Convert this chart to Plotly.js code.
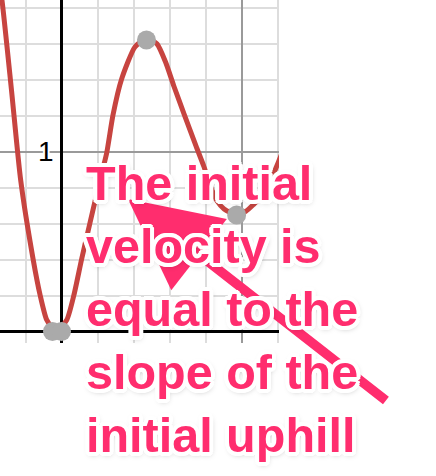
<!DOCTYPE html>
<html>
<head>
<meta charset="utf-8">
<script src="https://cdn.plot.ly/plotly-3.0.1.min.js"></script>
<style>html,body{margin:0;padding:0;background:#fff;}</style>
</head>
<body>
<div id="chart" style="width:436px;height:476px;"></div>
<script>
// Curve
var curveX = [-0.345, -0.331, -0.278, -0.227, -0.158, -0.119, -0.082, -0.031, 0.029, 0.069, 0.112, 0.158, 0.214, 0.251, 0.286, 0.334, 0.408, 0.475, 0.531, 0.578, 0.625, 0.681, 0.747, 0.792, 0.831, 0.864, 0.903, 0.973, 1.025, 1.069, 1.114, 1.158, 1.203, 1.225];
var curveY = [1.92, 1.842, 1.342, 0.842, 0.403, 0.203, 0.064, 0.0, 0.064, 0.203, 0.403, 0.603, 0.842, 0.992, 1.203, 1.403, 1.581, 1.631, 1.597, 1.497, 1.361, 1.208, 1.031, 0.914, 0.797, 0.725, 0.681, 0.647, 0.669, 0.708, 0.753, 0.831, 0.936, 0.992];
// Highlighted points
var pointX = [-0.05, 0.0, 0.472, 0.973];
var pointY = [0.0, 0.0, 1.619, 0.647];
// Tick labels
var yTickVals = [1];
var yTickText = ['1'];
var xTickVals = [1];
// Annotation text lines
var noteLines = ['The initial', 'velocity is', 'equal to the', 'slope of the', 'initial uphill'];

var pink = '#ff2d6e';
var halo = [];
var r = 4;
for (var a = 0; a < 16; a++) {
  var ang = a * Math.PI / 8;
  halo.push((r * Math.cos(ang)).toFixed(1) + 'px ' + (r * Math.sin(ang)).toFixed(1) + 'px 0 #fff');
}
halo.push('1px 2px 6px rgba(0,0,0,0.4)');
var haloStr = halo.join(', ');

var traces = [
  {x: curveX, y: curveY, type: 'scatter', mode: 'lines',
   line: {color: '#c74440', width: 5, shape: 'spline', smoothing: 0.6}, hoverinfo: 'skip'},
  {x: pointX, y: pointY, type: 'scatter', mode: 'markers',
   marker: {color: '#aaaaaa', size: 19}, hoverinfo: 'skip'}
];

var layout = {
  width: 436, height: 476,
  margin: {l: 0, r: 157, t: 0, b: 133, pad: 0},
  paper_bgcolor: '#fff', plot_bgcolor: '#fff',
  showlegend: false,
  xaxis: {
    range: [-0.3417, 1.2083], tickmode: 'array', tickvals: xTickVals,
    showticklabels: false, ticks: '',
    showgrid: true, gridcolor: '#9a9a9a', gridwidth: 2,
    zeroline: true, zerolinecolor: '#000', zerolinewidth: 3,
    showline: false, fixedrange: true,
    minor: {tickmode: 'linear', tick0: 0, dtick: 0.2, showgrid: true, gridcolor: '#dddddd', gridwidth: 2, ticks: ''}
  },
  yaxis: {
    range: [-0.0639, 1.8417], tickmode: 'array', tickvals: yTickVals, ticktext: yTickText,
    anchor: 'free', position: 61.5 / 279, side: 'left', ticks: '',
    ticklabelstandoff: 8,
    tickfont: {family: 'Liberation Sans, Arial, sans-serif', size: 28, color: '#000',
               shadow: '2px 0 0 #fff, -2px 0 0 #fff, 0 2px 0 #fff, 0 -2px 0 #fff'},
    showgrid: true, gridcolor: '#9a9a9a', gridwidth: 2,
    zeroline: true, zerolinecolor: '#000', zerolinewidth: 3,
    showline: false, fixedrange: true,
    minor: {tickmode: 'linear', tick0: 0, dtick: 0.2, showgrid: true, gridcolor: '#dddddd', gridwidth: 2, ticks: ''}
  },
  annotations: [
    {xref: 'x', yref: 'y', x: 0.369, y: 0.736, axref: 'x', ayref: 'y', ax: 1.819, ay: -0.397,
     text: ' ', showarrow: true, arrowhead: 2, arrowsize: 1.9, arrowwidth: 9.5, arrowcolor: pink, standoff: 0},
    {xref: 'paper', yref: 'paper', x: 0.301, y: 0.098, xanchor: 'left', yanchor: 'middle', align: 'left',
     showarrow: false, text: noteLines.join('<br>'),
     font: {family: 'Liberation Sans, Arial, sans-serif', size: 48.5, weight: 'bold', color: pink, shadow: haloStr}}
  ]
};

Plotly.newPlot('chart', traces, layout, {displayModeBar: false, staticPlot: true});
</script>
</body>
</html>
